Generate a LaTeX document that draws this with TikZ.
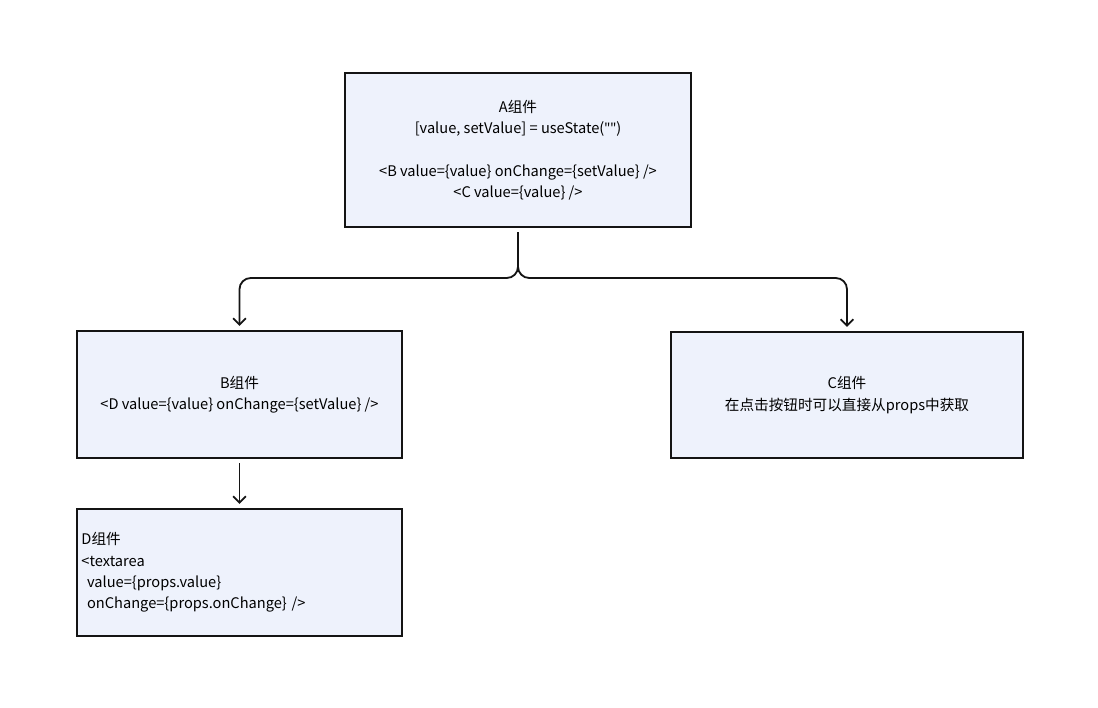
\documentclass[tikz,border=0pt]{standalone}
\usepackage{fontspec}
\setmainfont{Noto Sans CJK SC}
\newfontfamily\quotefont{Noto Sans}
\usetikzlibrary{arrows.meta,positioning}
\definecolor{PaleBlue}{RGB}{238,242,252}
\definecolor{LineBlack}{RGB}{20,20,20}
\tikzset{
  comp/.style={draw=LineBlack,fill=PaleBlue,line width=1.3pt,
    align=center,font=\fontsize{10.4}{15.2}\selectfont,inner sep=0pt},
  arrow/.style={-{Straight Barb[length=4.5pt,width=9pt]},line width=1.3pt,
    LineBlack,rounded corners=8pt,shorten <=3pt,shorten >=3pt}
}
\begin{document}
\begin{tikzpicture}[x=0.025cm,y=-0.025cm]
      \useasboundingbox (0,0) rectangle (1098,708);
      \node[comp,minimum width=8.65cm,minimum height=3.85cm] (A) at (518,150)
        {A组件\\{[}value, setValue{]} = useState({\quotefont\char34\char34})\\[15pt]
         <B value=\{value\} onChange=\{setValue\} />\\<C value=\{value\} />};
      \node[comp,minimum width=8.125cm,minimum height=3.175cm] (B) at (239.5,394.5)
        {B组件\\<D value=\{value\} onChange=\{setValue\} />};
      \node[comp,minimum width=8.8cm,minimum height=3.15cm] (C) at (847,395)
        {C组件\\在点击按钮时可以直接从props中获取};
      \node[comp,minimum width=8.125cm,minimum height=3.175cm,align=left,
        text width=7.9cm] (D) at (239.5,572.5)
        {D组件\\<textarea\\\hspace*{4pt}value=\{props.value\}\\
         \hspace*{4pt}onChange=\{props.onChange\} />};
      \coordinate (fork) at (518,278);
      \draw[arrow] (A.south) -- (fork) -| (B.north);
      \draw[arrow] (A.south) -- (fork) -| (C.north);
      \draw[arrow] (B.south) -- (D.north);
    \end{tikzpicture}
\end{document}
